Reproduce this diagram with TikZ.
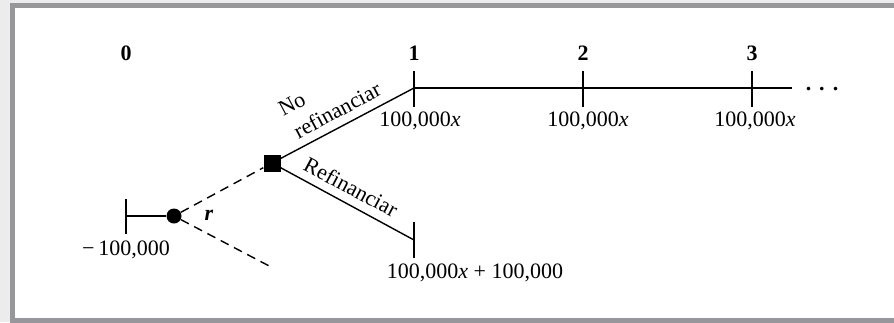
\documentclass[tikz,border=0pt]{standalone}
\usepackage{fontspec}
\setmainfont{Liberation Serif}
\definecolor{framegray}{RGB}{150,150,155}
\definecolor{outergray}{RGB}{236,236,236}
\begin{document}
\begin{tikzpicture}[x=1pt,y=-1pt,
  lbl/.style={font=\fontsize{22}{26}\selectfont, inner sep=0pt},
  hd/.style={font=\fontsize{22}{26}\selectfont\bfseries, inner sep=0pt},
  branch/.style={line width=1.4pt},
  dsh/.style={line width=1.4pt, dash pattern=on 9pt off 6pt},
  tick/.style={line width=1.2pt}]
\useasboundingbox (0,0) rectangle (894,322);
\fill[outergray] (0,0) rectangle (894,322);
\draw[line width=5pt, draw=framegray, fill=white] (12.5,5.5) rectangle (920,320.5);

% points
\coordinate (t0) at (126,216);
\coordinate (t1) at (414,88);
\coordinate (t2) at (583,88);
\coordinate (t3) at (752,88);
\coordinate (tend) at (792,88);
\coordinate (rb) at (414,240);
\coordinate (de) at (273,268);
\node[circle, fill=black, minimum size=15pt, inner sep=0pt] (c) at (174,216) {};
\node[rectangle, fill=black, minimum size=17pt, inner sep=0pt] (s) at (272,163) {};

% connectors
\draw[branch] (t0) -- (c);
\draw[dsh] (c) -- (s);
\draw[dsh] (c) -- (de);
\draw[branch] (s) -- (t1);
\draw[branch] (s) -- (rb);
\draw[branch] (t1) -- (tend);

% ticks
\draw[tick] ([yshift=-18pt]t0) -- ([yshift=17pt]t0);
\draw[tick] ([yshift=-19pt]t1) -- ([yshift=17pt]t1);
\draw[tick] ([yshift=-19pt]t2) -- ([yshift=17pt]t2);
\draw[tick] ([yshift=-19pt]t3) -- ([yshift=17pt]t3);
\draw[tick] ([yshift=-18pt]rb) -- ([yshift=18pt]rb);

% period labels
\node[hd] (p0) at (126,53) {0};
\node[hd] (p1) at (414,53) {1};
\node[hd] (p2) at (583,53) {2};
\node[hd] (p3) at (752,53) {3};
\node[hd, anchor=base] (dots) at (822,90) {.\hspace{8pt}.\hspace{8pt}.};

% cash flows
\node[lbl] (v0) at (126,250) {−\,100,000};
\node[lbl] (v1) at (420,121) {100,000\textit{x}};
\node[lbl] (v2) at (588,121) {100,000\textit{x}};
\node[lbl] (v3) at (755,121) {100,000\textit{x}};
\node[lbl] (vr) at (475,273) {100,000\textit{x} + 100,000};

% branch labels
\node[lbl] (r) at (209,215) {\textbf{\textit{r}}};
\node[lbl, rotate=28] (no) at (292,104) {No};
\node[lbl, rotate=28] (nr) at (337,110) {refinanciar};
\node[lbl, rotate=-28] (ref) at (351,187) {Refinanciar};
\end{tikzpicture}
\end{document}
